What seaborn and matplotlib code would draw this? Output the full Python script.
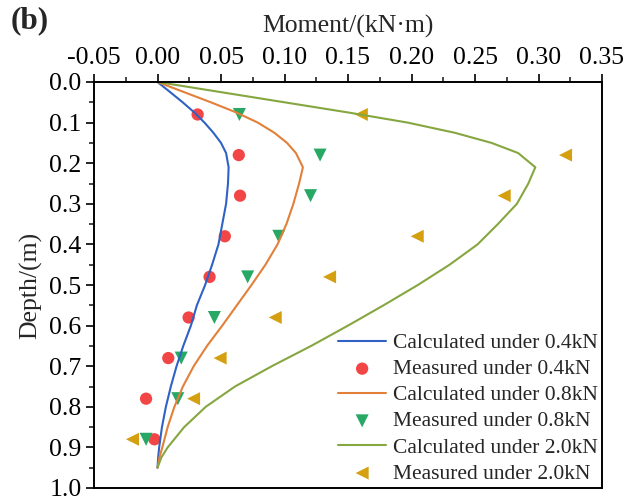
import matplotlib
matplotlib.use("Agg")
import matplotlib.pyplot as plt
import seaborn as sns
import pandas as pd
from matplotlib.ticker import MultipleLocator, FormatStrFormatter

# Depth grid of the calculated moment profiles (m)
depth_calc = [0.0, 0.025, 0.05, 0.075, 0.10, 0.125, 0.15, 0.175, 0.21, 0.25,
              0.30, 0.35, 0.40, 0.45, 0.50, 0.55, 0.60, 0.65, 0.70, 0.75,
              0.80, 0.85, 0.90, 0.925, 0.95]
# Calculated moment (kN·m)
calc_04 = [0.0, 0.010, 0.0198, 0.029, 0.037, 0.044, 0.050, 0.054, 0.056, 0.0555,
           0.054, 0.051, 0.048, 0.043, 0.0375, 0.031, 0.0263, 0.0203, 0.015, 0.0105,
           0.0066, 0.0035, 0.0013, 0.0005, 0.0]
calc_08 = [0.0, 0.021, 0.042, 0.062, 0.079, 0.092, 0.102, 0.109, 0.1145, 0.1115,
           0.107, 0.1015, 0.0945, 0.085, 0.074, 0.0625, 0.051, 0.039, 0.0285, 0.020,
           0.0133, 0.008, 0.0038, 0.0015, 0.0]
calc_20 = [0.0, 0.050, 0.100, 0.150, 0.197, 0.234, 0.263, 0.284, 0.2975, 0.292,
           0.283, 0.268, 0.252, 0.230, 0.205, 0.178, 0.150, 0.121, 0.090, 0.061,
           0.038, 0.021, 0.008, 0.003, 0.0]

# Measured moment at gauge depths
depth_meas = [0.08, 0.18, 0.28, 0.38, 0.48, 0.58, 0.68, 0.78, 0.88]
meas_04 = [0.0316, 0.064, 0.065, 0.053, 0.041, 0.0245, 0.0085, -0.009, -0.0024]
meas_08 = [0.0645, 0.128, 0.1205, 0.0955, 0.071, 0.0448, 0.0187, 0.016, -0.009]
meas_20 = [0.1605, 0.3213, 0.273, 0.2045, 0.1355, 0.0927, 0.0493, 0.0284, -0.0197]

x_ticks = [-0.05, 0.00, 0.05, 0.10, 0.15, 0.20, 0.25, 0.30, 0.35]
y_ticks = [0.0, 0.1, 0.2, 0.3, 0.4, 0.5, 0.6, 0.7, 0.8, 0.9, 1.0]

sns.set_style("ticks")
plt.rcParams["font.family"] = ["Liberation Serif", "DejaVu Serif"]
plt.rcParams["axes.unicode_minus"] = False

fig = plt.figure(figsize=(6.39, 5.0), dpi=100)
ax = fig.add_axes([94 / 639, 12 / 500, 508 / 639, 406 / 500])

calc = pd.DataFrame({"depth": depth_calc, "c04": calc_04, "c08": calc_08, "c20": calc_20})
meas = pd.DataFrame({"depth": depth_meas, "m04": meas_04, "m08": meas_08, "m20": meas_20})

c_blue, c_red = "#2F62C4", "#F24646"
c_orange, c_green = "#E2803A", "#27A864"
c_olive, c_gold = "#86A640", "#D4A010"

sns.lineplot(data=calc, x="c04", y="depth", sort=False, estimator=None,
             color=c_blue, lw=1.5, ax=ax, label="Calculated under 0.4kN")
sns.scatterplot(data=meas, x="m04", y="depth", marker="o", s=78, color=c_red,
                edgecolor="none", ax=ax, label="Measured under 0.4kN")
sns.lineplot(data=calc, x="c08", y="depth", sort=False, estimator=None,
             color=c_orange, lw=1.5, ax=ax, label="Calculated under 0.8kN")
sns.scatterplot(data=meas, x="m08", y="depth", marker="v", s=88, color=c_green,
                edgecolor="none", ax=ax, label="Measured under 0.8kN")
sns.lineplot(data=calc, x="c20", y="depth", sort=False, estimator=None,
             color=c_olive, lw=1.5, ax=ax, label="Calculated under 2.0kN")
sns.scatterplot(data=meas, x="m20", y="depth", marker="<", s=88, color=c_gold,
                edgecolor="none", ax=ax, label="Measured under 2.0kN")

ax.set_xlim(-0.05, 0.35)
ax.set_ylim(1.0, 0.0)
ax.set_xticks(x_ticks)
ax.set_yticks(y_ticks)
ax.xaxis.set_major_formatter(FormatStrFormatter("%.2f"))
ax.yaxis.set_major_formatter(FormatStrFormatter("%.1f"))
ax.xaxis.set_minor_locator(MultipleLocator(0.025))
ax.yaxis.set_minor_locator(MultipleLocator(0.05))
ax.xaxis.tick_top()
ax.xaxis.set_label_position("top")

ax.tick_params(axis="both", which="major", direction="out", length=6, width=1.2,
               labelsize=18.5, colors="black", pad=3)
ax.tick_params(axis="both", which="minor", direction="out", length=3.5, width=1.2)
ax.tick_params(axis="x", which="both", bottom=False, top=True)
ax.tick_params(axis="y", which="both", left=True, right=False)

for sp in ax.spines.values():
    sp.set_visible(True)
    sp.set_linewidth(1.4)
    sp.set_color("black")

ax.set_xlabel("Moment/(kN·m)", fontsize=18.5, labelpad=11)
ax.set_ylabel("Depth/(m)", fontsize=18.5, labelpad=5)

fig.text(11 / 639, 1 - 21 / 500, "(b)", fontsize=22.5, fontweight="bold", va="center", ha="left")

leg = ax.legend(loc="lower right", bbox_to_anchor=(1.0, 0.0), frameon=False,
                fontsize=15.5, handlelength=2.25, handletextpad=0.3,
                labelspacing=0.28, borderaxespad=0.0, borderpad=0.2)

fig.savefig("out.png", dpi=100)
